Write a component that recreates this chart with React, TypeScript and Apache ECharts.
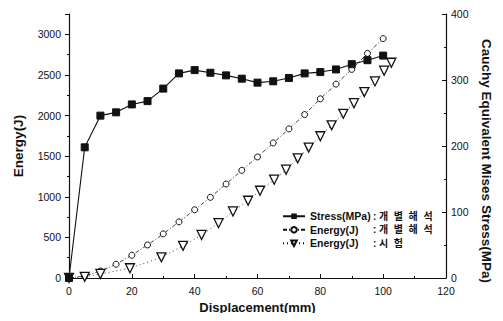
import React, { useEffect, useRef } from "react";
import * as echarts from "echarts";

const stressX = [0, 5, 10, 15, 20, 25, 30, 35, 40, 45, 50, 55, 60, 65, 70, 75, 80, 85, 90, 95, 100];
const stressY = [0, 198, 246, 251, 263, 268, 287, 310, 315, 311, 307, 302, 296, 298, 303, 310, 312, 316, 324, 330, 337];

const simX = [0, 5, 10, 15, 20, 25, 30, 35, 40, 45, 50, 55, 60, 65, 70, 75, 80, 85, 90, 95, 100];
const simY = [0, 25, 86, 169, 280, 407, 543, 691, 840, 993, 1157, 1325, 1490, 1663, 1835, 2012, 2206, 2387, 2568, 2765, 2947];

const testX = [0, 5, 10, 19.4, 29.4, 36.3, 42.2, 47.6, 52.2, 57, 60.8, 65.3, 69.1, 72.8, 76.3, 80, 83.6, 87.3, 90.7, 94, 97.4, 100.3, 102.6];
const testY = [0, 15, 50, 120, 255, 395, 530, 675, 819, 951, 1074, 1210, 1333, 1473, 1605, 1745, 1880, 2021, 2152, 2288, 2420, 2552, 2650];

const xTicks = { min: 0, max: 120, interval: 20 };
const leftTicks = { min: 0, max: 3250, interval: 500 };
const rightTicks = { min: 0, max: 400, interval: 100 };

const nameStress = "Stress(MPa)";
const nameSim = "Energy(J)";
const nameTest = "Energy(J) ";
const labelStress = "개  별  해  석";
const labelSim = "개  별  해  석";
const labelTest = "시  험";

const FONT = "'Liberation Sans', Arial, 'Noto Sans CJK KR', sans-serif";
const INK = "#111";

export default function App() {
  const ref = useRef<HTMLDivElement>(null);
  useEffect(() => {
    if (!ref.current) return;
    const chart = echarts.init(ref.current, null, { renderer: "svg" });
    const pairs = (xs: number[], ys: number[]) => xs.map((x, i) => [x, ys[i]]);
    const labelMap: Record<string, string> = {
      [nameStress]: labelStress,
      [nameSim]: labelSim,
      [nameTest]: labelTest,
    };
    const axisCommon = {
      axisLine: { show: true, lineStyle: { color: INK, width: 1.2 } },
      splitLine: { show: false },
      axisLabel: { color: INK, fontSize: 10.5, fontFamily: FONT },
      nameTextStyle: { color: INK, fontWeight: "bold", fontFamily: FONT },
    };
    chart.setOption({
      animation: false,
      backgroundColor: "#fff",
      grid: { left: 69, right: 57, top: 14, bottom: 43 },
      legend: {
        orient: "vertical",
        left: 277,
        top: 206,
        itemWidth: 22,
        itemHeight: 7,
        itemGap: 3,
        data: [nameStress, nameSim, nameTest],
        formatter: (n: string) => `{a|${n.trim()}}{b|: ${labelMap[n]}}`,
        textStyle: {
          color: INK,
          fontFamily: FONT,
          fontWeight: "bold",
          fontSize: 10,
          rich: {
            a: { width: 63, fontSize: 10.5, fontWeight: "bold", fontFamily: FONT, color: INK },
            b: { fontSize: 10, fontWeight: "bold", fontFamily: FONT, color: INK },
          },
        },
      },
      xAxis: {
        type: "value",
        ...xTicks,
        ...axisCommon,
        axisTick: { show: true, inside: true, length: 4, lineStyle: { color: INK } },
        minorTick: { show: true, splitNumber: 2, length: 2, lineStyle: { color: INK } },
        axisLabel: { ...axisCommon.axisLabel, margin: 8 },
        name: "Displacement(mm)",
        nameLocation: "middle",
        nameGap: 22,
        nameTextStyle: { ...axisCommon.nameTextStyle, fontSize: 13 },
      },
      yAxis: [
        {
          type: "value",
          position: "left",
          ...leftTicks,
          ...axisCommon,
          axisTick: { show: true, inside: false, length: 4, lineStyle: { color: INK } },
          minorTick: { show: true, splitNumber: 2, length: 2, lineStyle: { color: INK } },
          axisLabel: {
            ...axisCommon.axisLabel,
            margin: 8,
            formatter: (v: number) => (v % 500 === 0 ? String(v) : ""),
          },
          name: "Energy(J)",
          nameLocation: "middle",
          nameGap: 44,
          nameTextStyle: { ...axisCommon.nameTextStyle, fontSize: 13.5 },
        },
        {
          type: "value",
          position: "right",
          ...rightTicks,
          ...axisCommon,
          axisTick: { show: true, inside: true, length: 4, lineStyle: { color: INK } },
          minorTick: { show: true, splitNumber: 2, length: 2, lineStyle: { color: INK } },
          axisLabel: { ...axisCommon.axisLabel, margin: 5 },
          name: "Cauchy Equivalent Mises Stress(MPa)",
          nameLocation: "middle",
          nameGap: 32,
          nameRotate: -90,
          nameTextStyle: { ...axisCommon.nameTextStyle, fontSize: 13.5, padding: [0, 0, 0, 30] },
        },
      ],
      series: [
        {
          name: nameStress,
          type: "line",
          yAxisIndex: 1,
          data: pairs(stressX, stressY),
          symbol: "rect",
          symbolSize: 7,
          itemStyle: { color: INK, borderColor: INK },
          lineStyle: { color: INK, width: 1.1, type: "solid" },
          z: 3,
        },
        {
          name: nameSim,
          type: "line",
          yAxisIndex: 0,
          data: pairs(simX, simY),
          symbol: "circle",
          symbolSize: 6,
          itemStyle: { color: "#fff", borderColor: INK, borderWidth: 1 },
          lineStyle: { color: INK, width: 0.8, type: [4, 2, 1, 2] },
          z: 2,
        },
        {
          name: nameTest,
          type: "line",
          yAxisIndex: 0,
          data: pairs(testX, testY),
          symbol: "triangle",
          symbolRotate: 180,
          symbolSize: 9,
          itemStyle: { color: "#fff", borderColor: INK, borderWidth: 1.3 },
          lineStyle: { color: INK, width: 0.8, type: [1, 3] },
          z: 2,
        },
      ],
    });
    return () => chart.dispose();
  }, []);
  return <div ref={ref} style={{ width: 503, height: 321, margin: -8 }} />;
}
